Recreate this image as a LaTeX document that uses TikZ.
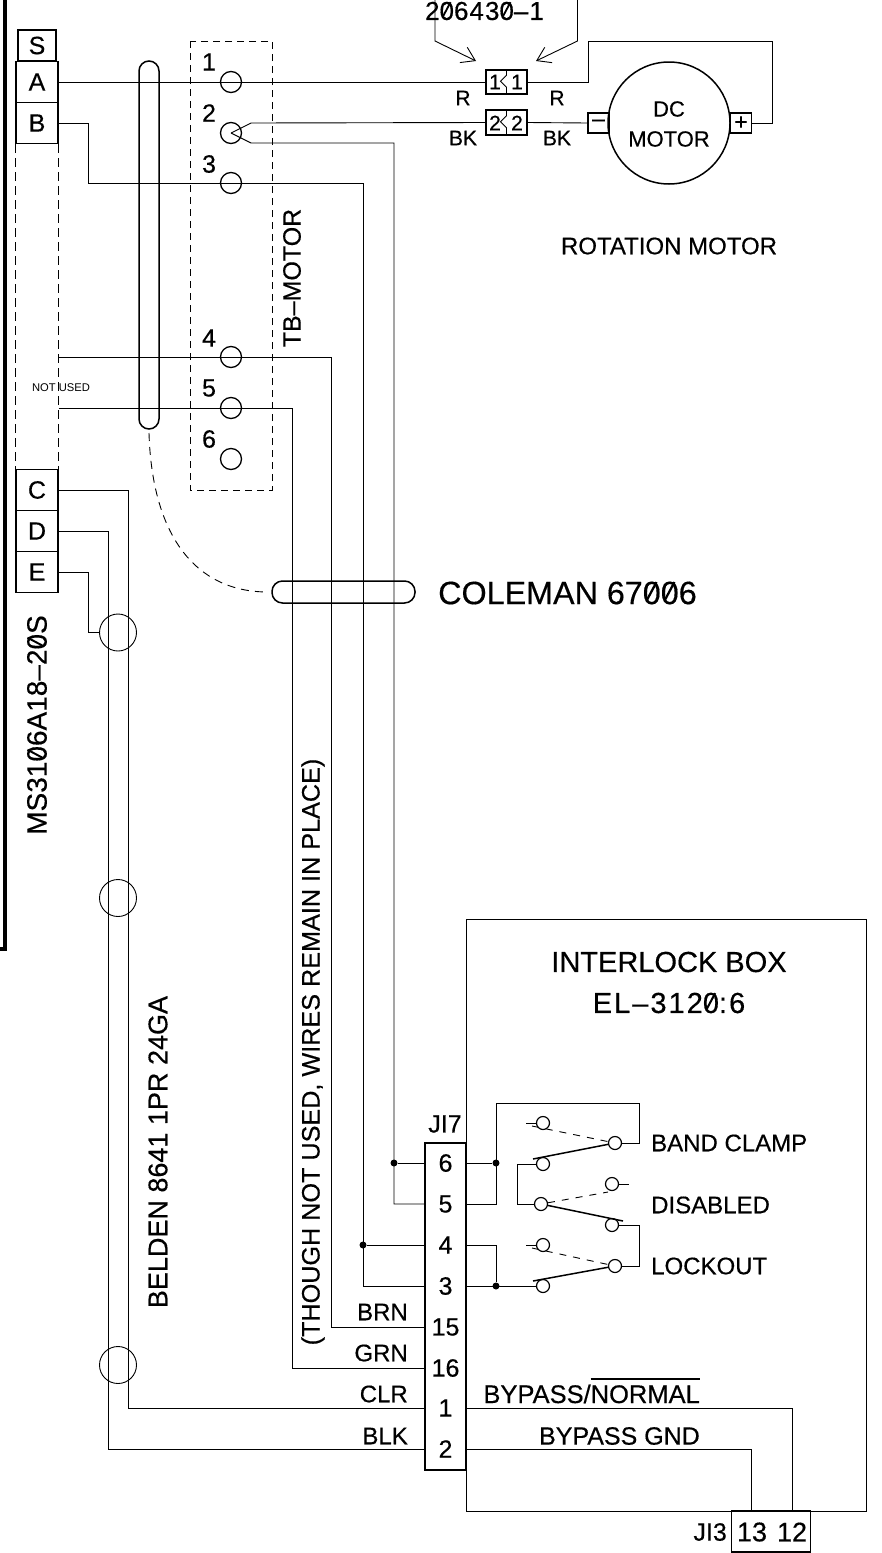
\documentclass[tikz,border=0pt]{standalone}
\usepackage{fontspec}
\setmainfont{Liberation Sans}[AutoFakeBold=0.4]
\usetikzlibrary{arrows.meta}
\newcommand{\slz}{\ooalign{0\cr\hidewidth\raisebox{.12em}{\rotatebox{62}{\rule{.62em}{.07em}}}\hidewidth\cr}}
\tikzset{
	wire/.style={line width=0.9pt},
	heavy/.style={line width=1.5pt},
	dashline/.style={line width=0.9pt,dash pattern=on 9pt off 5pt},
	pinbox/.style={draw,line width=1.4pt,minimum width=42pt,minimum height=41pt,inner sep=0pt,font=\bfseries\fontsize{25}{27}\selectfont},
	pinnum/.style={minimum width=41pt,minimum height=41pt,inner sep=0pt,font=\bfseries\fontsize{25}{27}\selectfont},
	lbl/.style={inner sep=0pt,font=\bfseries\fontsize{25}{27}\selectfont},
	lblsm/.style={inner sep=0pt,font=\bfseries\fontsize{21}{23}\selectfont},
	lblmd/.style={inner sep=0pt,font=\bfseries\fontsize{24}{26}\selectfont},
	term/.style={draw,circle,line width=1.3pt,minimum size=21pt,inner sep=0pt},
	swc/.style={draw,circle,line width=1.2pt,minimum size=13pt,inner sep=0pt},
	splice/.style={draw,circle,line width=0.9pt,minimum size=37pt,inner sep=0pt},
	dot/.style={fill,circle,minimum size=7pt,inner sep=0pt},
	tip/.style={wire,-{Straight Barb[length=13pt,width=17pt]}},
}
\begin{document}
\begin{tikzpicture}[x=1pt,y=-1pt]
	\useasboundingbox (0,0) rectangle (882,1553);
	
	% Draw wall
	\draw[line width=3.5pt] (5,0) -- (5,949) -- (0,949);
	
	% Draw MS connector
	\node[pinbox,minimum width=38pt,minimum height=31pt] (S) at (37,45.5) {S};
	\node[pinbox] (A) at (37,82) {A};
	\node[pinbox] (B) at (37,123) {B};
	\node[pinbox] (C) at (37,490) {C};
	\node[pinbox] (D) at (37,531) {D};
	\node[pinbox] (E) at (37,572) {E};
	\draw[dashline] (B.south west) -- (C.north west);
	\draw[dashline] (B.south east) -- (C.north east);
	\coordinate (nu4) at (B.south east |- 0,357);
	\coordinate (nu5) at (B.south east |- 0,408);
	\node[inner sep=0pt,font=\fontsize{11.2}{13}\selectfont] (notused) at (61,388) {NOT USED};
	\node[lbl,rotate=90,font=\bfseries\fontsize{28}{30}\selectfont] (msname) at (37,725) {MS31\slz6A18–2\slz S};
	
	% Draw terminal block
	\draw[dashline,dash pattern=on 7pt off 5pt] (190,41) rectangle (272,490);
	\node[term] (t1) at (231,82) {};
	\node[term] (t2) at (231,133) {};
	\node[term] (t3) at (231,183) {};
	\node[term] (t4) at (231,357) {};
	\node[term] (t5) at (231,408) {};
	\node[term] (t6) at (231,459) {};
	\node[lbl] (n1) at (209,62) {1};
	\node[lbl] (n2) at (209,113) {2};
	\node[lbl] (n3) at (209,164) {3};
	\node[lbl] (n4) at (209,338) {4};
	\node[lbl] (n5) at (209,388) {5};
	\node[lbl] (n6) at (209,439) {6};
	\node[lbl,rotate=90] (tbname) at (292,278) {TB–MOTOR};
	
	% Draw motor and its plugs
	\node[draw,heavy,minimum width=41pt,minimum height=24pt] (plug1) at (506.5,82) {};
	\node[draw,heavy,minimum width=41pt,minimum height=25pt] (plug2) at (506.5,122.5) {};
	\draw[wire] (plug1.north) -- ++(0,6) -- ++(-6,6) -- ++(6,6) -- (plug1.south);
	\draw[wire] (plug2.north) -- ++(0,6.5) -- ++(-6,6) -- ++(6,6) -- (plug2.south);
	\node[lblsm] (p1a) at (495,82) {1};
	\node[lblsm] (p1b) at (517,82) {1};
	\node[lblsm] (p2a) at (495,123) {2};
	\node[lblsm] (p2b) at (517,123) {2};
	\node[lblsm] (r1) at (463,98) {R};
	\node[lblsm] (r2) at (557,98) {R};
	\node[lblsm] (bk1) at (463,138) {BK};
	\node[lblsm] (bk2) at (557,138) {BK};
	\node[draw,heavy,circle,minimum size=122pt,inner sep=0pt] (motor) at (669,123) {};
	\node[lbl,font=\bfseries\fontsize{22}{24}\selectfont] (dc) at (669,109) {DC};
	\node[lbl,font=\bfseries\fontsize{22}{24}\selectfont] (dcm) at (669,139) {MOTOR};
	\node[draw,heavy,minimum width=21pt,minimum height=20pt,inner sep=0pt,font=\bfseries\fontsize{23}{25}\selectfont] (minus) at (598.5,123) {–};
	\node[draw,heavy,minimum width=21pt,minimum height=20pt,inner sep=0pt,font=\bfseries\fontsize{23}{25}\selectfont] (plus) at (741,123) {+};
	\node[lblmd] (rotname) at (669,246) {ROTATION MOTOR};
	\node[lbl,font=\bfseries\fontsize{26}{28}\selectfont\addfontfeature{LetterSpace=4}] (partno) at (484.5,11) {2\slz 643\slz –1};
	\draw[tip] (435,0) -- (435,41) -- (476,61);
	\draw[tip] (577.5,0) -- (577.5,41) -- (536,61);
	
	% Draw wires to motor
	\draw[wire] (A.east) -- (plug1.west);
	\draw[wire] (plug1.east) -- (588,82) -- (588,41) -- (772,41) |- (plus.east);
	\draw[wire] (t2.center) -- (251,123) -- (plug2.west);
	\draw[wire] (plug2.east) -- (minus.west);
	
	% Draw cable ties
	\draw[heavy,rounded corners=10pt] (139,61) rectangle (159,429);
	\draw[heavy,rounded corners=10.5pt] (272,581) rectangle (415,603);
	\draw[dashline,dash pattern=on 8pt off 6pt] (149,433) .. controls (152,535) and (195,592) .. (268,592);
	\node[lbl,font=\bfseries\fontsize{32.3}{34}\selectfont,anchor=west] (coleman) at (438,593) {COLEMAN 67\slz\slz 6};
	
	% Draw belden cable
	\node[splice] (sp1) at (118,632.5) {};
	\node[splice] (sp2) at (118,898) {};
	\node[splice] (sp3) at (118,1365) {};
	\node[lbl,rotate=90,font=\bfseries\fontsize{27}{29}\selectfont] (belden) at (158,1152) {BELDEN 8641 1PR 24GA};
	\node[lbl,rotate=90,font=\bfseries\fontsize{25.2}{27}\selectfont] (though) at (313,1052) {(THOUGH NOT USED, WIRES REMAIN IN PLACE)};
	
	% Draw interlock box
	\node[draw,heavy,minimum width=41pt,minimum height=327pt] (ji7) at (445.5,1306.5) {};
	\draw[wire] (ji7.north east) |- (866,919) -- (866,1511) -| (ji7.south east);
	\node[lbl,font=\bfseries\fontsize{29}{31}\selectfont] (boxname) at (669,962) {INTERLOCK BOX};
	\node[lbl,font=\bfseries\fontsize{29}{31}\selectfont\addfontfeature{LetterSpace=7}] (boxno) at (669,1003) {EL–312\slz:6};
	\node[lbl] (jiname) at (445,1124) {JI7};
	\node[pinnum] (j6) at (445.5,1163) {6};
	\node[pinnum] (j5) at (445.5,1204) {5};
	\node[pinnum] (j4) at (445.5,1245) {4};
	\node[pinnum] (j3) at (445.5,1286) {3};
	\node[pinnum] (j15) at (445.5,1327) {15};
	\node[pinnum] (j16) at (445.5,1368) {16};
	\node[pinnum] (j1) at (445.5,1408) {1};
	\node[pinnum] (j2) at (445.5,1449) {2};
	\node[lblmd,anchor=east] (brn) at (408,1312) {BRN};
	\node[lblmd,anchor=east] (grn) at (408,1353) {GRN};
	\node[lblmd,anchor=east] (clr) at (408,1394) {CLR};
	\node[lblmd,anchor=east] (blk) at (408,1436) {BLK};
	\node[lbl,font=\bfseries\fontsize{25.5}{27}\selectfont,anchor=base east] (bypn) at (700,1403) {BYPASS/\rlap{\raisebox{23pt}{\rule{109pt}{1.6pt}}}NORMAL};
	\node[lbl,anchor=east] (bypg) at (700,1436) {BYPASS GND};
	
	% Draw JI3 plug
	\node[draw,heavy,minimum width=79pt,minimum height=41pt] (ji3) at (771,1531.5) {};
	\node[lbl,font=\bfseries\fontsize{27}{29}\selectfont] (j13) at (752,1532) {13};
	\node[lbl,font=\bfseries\fontsize{27}{29}\selectfont] (j12) at (792,1532) {12};
	\node[lbl,anchor=east] (ji3name) at (727,1532) {JI3};
	
	% Draw long wires
	\node[dot] (d6) at (394,1163) {};
	\node[dot] (d4) at (363,1245) {};
	\draw[wire] (t2.center) -- (251,143) -- (394,143) |- (j5.west);
	\draw[wire] (d6) -- (j6.west);
	\draw[wire] (B.east) -| (88,183) -- (363,183) |- (j3.west);
	\draw[wire] (d4) -- (j4.west);
	\draw[wire] (nu4) -- (331,357) |- (j15.west);
	\draw[wire] (nu5) -- (292,408) |- (j16.west);
	\draw[wire] (C.east) -| (128,1408) -- (j1.west);
	\draw[wire] (D.east) -| (108,1449) -- (j2.west);
	\draw[wire] (E.east) -| (88,632.5) -- (sp1.west);
	\draw[wire] (j1.east) -| (792,1511);
	\draw[wire] (j2.east) -| (751,1511);
	
	% Draw switches
	\node[swc] (bc1) at (543,1123) {};
	\node[swc] (bc2) at (543,1164) {};
	\node[swc] (bc3) at (615,1143) {};
	\node[swc] (ds1) at (612,1184) {};
	\node[swc] (ds2) at (541,1204) {};
	\node[swc] (ds3) at (612,1225) {};
	\node[swc] (lo1) at (543,1245) {};
	\node[swc] (lo2) at (543,1286) {};
	\node[swc] (lo3) at (615,1266) {};
	\draw[wire] (526,1123) -- (bc1.west);
	\draw[wire] (ds1.east) -- (629,1184);
	\draw[wire] (526,1245) -- (lo1.west);
	\draw[wire,dash pattern=on 7pt off 7pt] (532,1126) -- (bc3);
	\draw[wire,dash pattern=on 7pt off 7pt] (ds2) -- (608,1192);
	\draw[wire,dash pattern=on 7pt off 7pt] (532,1248) -- (lo3);
	\draw[heavy] (533,1159) -- (bc3);
	\draw[heavy] (ds2) -- (623,1221);
	\draw[heavy] (533,1281) -- (lo3);
	\node[lblmd,anchor=west] (bcname) at (651,1143) {BAND CLAMP};
	\node[lblmd,anchor=west] (dsname) at (651,1205) {DISABLED};
	\node[lblmd,anchor=west] (loname) at (651,1266) {LOCKOUT};
	
	% Draw switch wiring
	\node[dot] (d5) at (496,1163) {};
	\node[dot] (d3) at (496,1286) {};
	\draw[wire] (j6.east) -- (d5);
	\draw[wire] (j5.east) -- (496,1204) |- (639,1103) |- (bc3.east);
	\draw[wire] (bc2.west) -| (517,1204) -- (ds2.west);
	\draw[wire] (ds3.east) -| (639,1266) -- (lo3.east);
	\draw[wire] (j4.east) -- (496,1245) -- (d3);
	\draw[wire] (j3.east) -- (lo2.west);
	
\end{tikzpicture}
\end{document}
